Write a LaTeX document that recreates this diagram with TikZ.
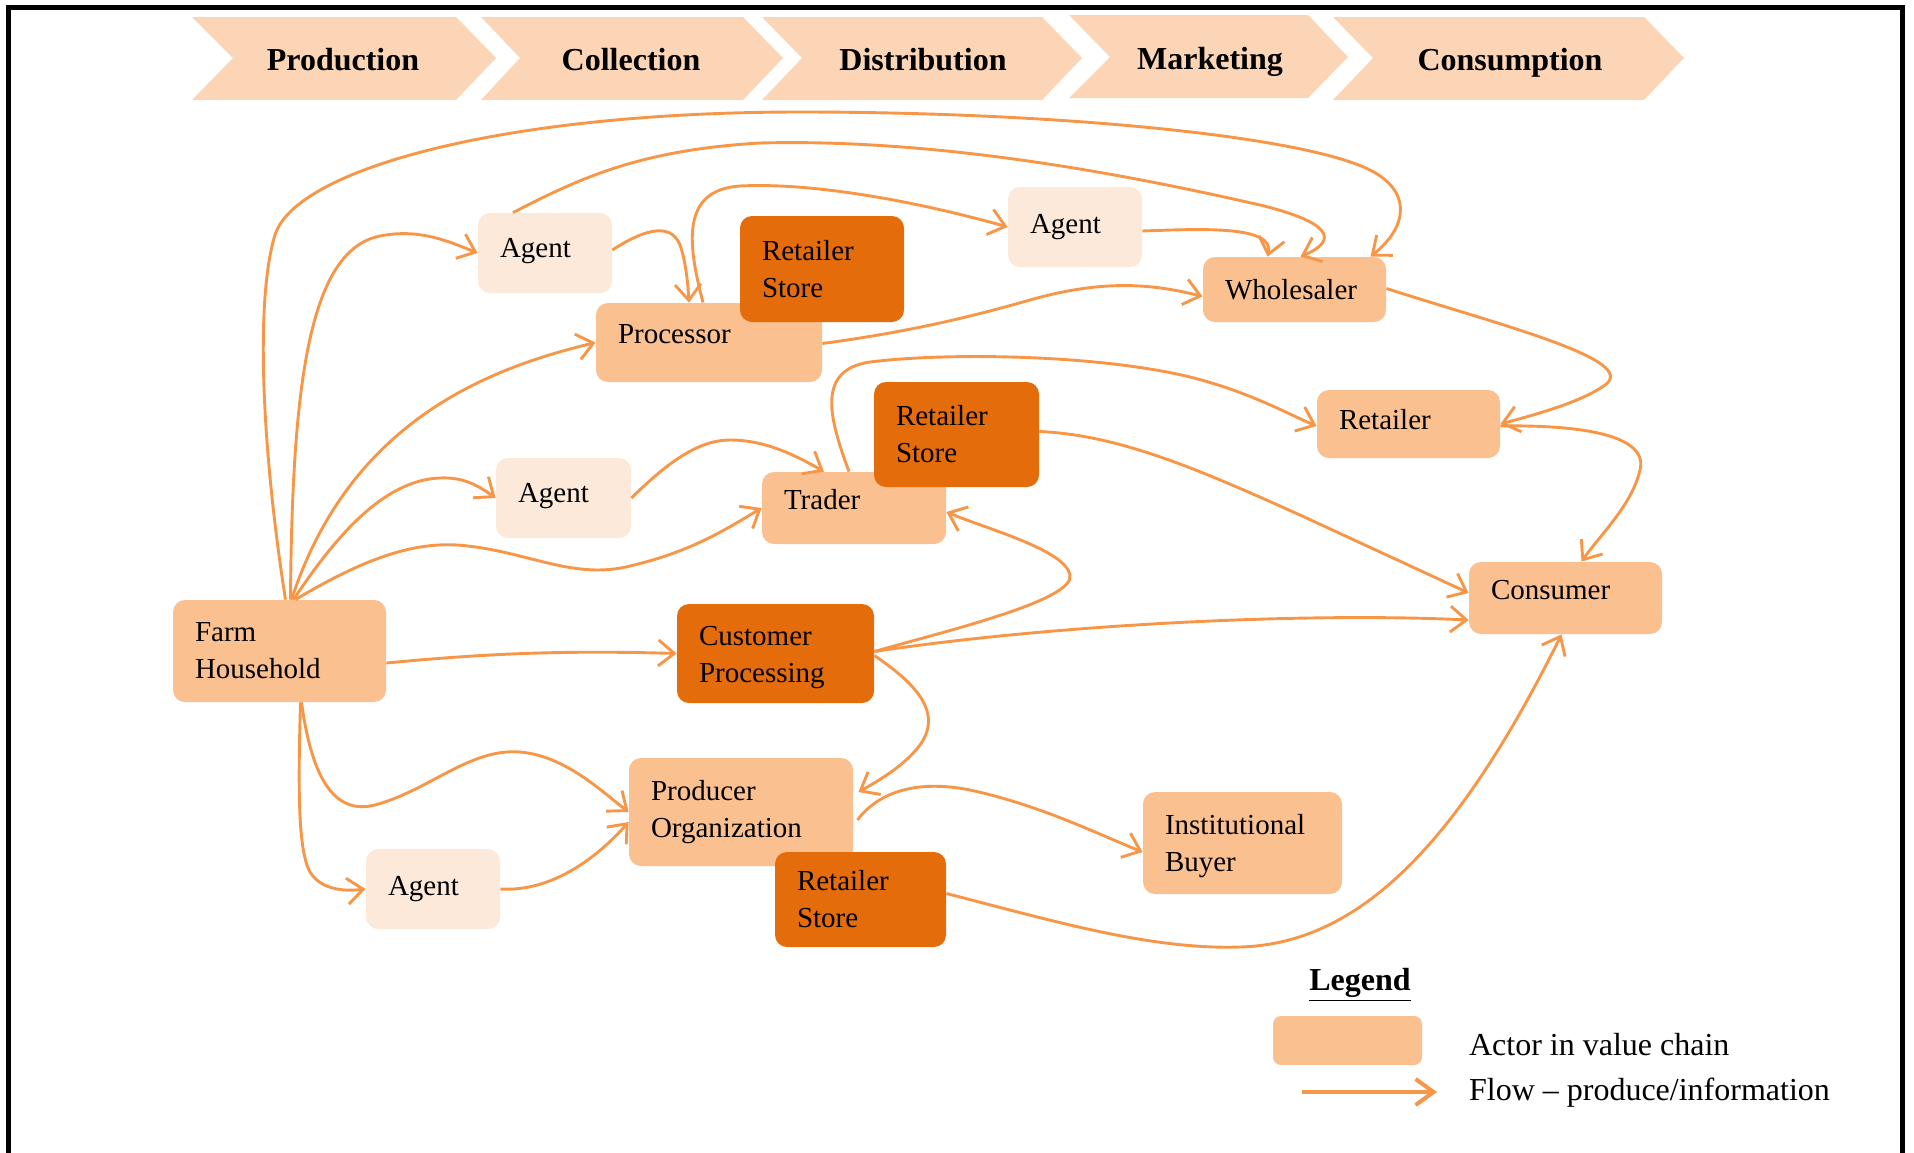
\documentclass[tikz,border=0pt]{standalone}
\usepackage{fontspec}
\setmainfont{Liberation Serif}
\usetikzlibrary{arrows.meta,calc}

\definecolor{chevron}{RGB}{251,213,181}
\definecolor{agentclr}{RGB}{253,233,217}
\definecolor{actorclr}{RGB}{250,192,144}
\definecolor{storeclr}{RGB}{228,108,10}
\definecolor{flowclr}{RGB}{247,150,70}

\tikzset{
  actor/.style={fill=actorclr, rounded corners=6pt, align=left, inner xsep=11pt, inner ysep=0pt,
    font=\fontsize{14.5}{18.5}\selectfont},
  agent/.style={actor, fill=agentclr},
  store/.style={actor, fill=storeclr},
  stage/.style={font=\fontsize{16}{19}\selectfont\bfseries, text height=11pt, text depth=3.5pt},
  legtext/.style={anchor=west, font=\fontsize{16}{19}\selectfont},
  flow/.style={draw=flowclr, line width=1.45pt, -{Straight Barb[length=8pt,width=13pt]}},
}

\begin{document}
\begin{tikzpicture}[x=0.5pt,y=-0.5pt]

    \useasboundingbox (0,0) rectangle (1914,1152);

    % marco
    \draw[black, line width=2.5pt] (8.5,1160) -- (8.5,7.5) -- (1902,7.5) -- (1902,1160);

    % etapas de la cadena
    \fill[chevron] (192,17) -- (456,17) -- (496,58) -- (456,100) -- (192,100) -- (233,58) -- cycle;
    \fill[chevron] (481,17) -- (743,17) -- (783,58) -- (743,100) -- (481,100) -- (520,58) -- cycle;
    \fill[chevron] (762,17) -- (1042,17) -- (1082,58) -- (1042,100) -- (762,100) -- (802,58) -- cycle;
    \fill[chevron] (1069,15) -- (1308,15) -- (1348,57) -- (1308,98) -- (1069,98) -- (1110,57) -- cycle;
    \fill[chevron] (1333,17) -- (1644,17) -- (1684,58) -- (1644,100) -- (1333,100) -- (1373,58) -- cycle;
    \node[stage] (sProd) at (343,62.5) {Production};
    \node[stage] (sColl) at (631,62.5) {Collection};
    \node[stage] (sDist) at (923,62.5) {Distribution};
    \node[stage] (sMark) at (1210,61.5) {Marketing};
    \node[stage] (sCons) at (1510,62.5) {Consumption};

    % actores
    \node[agent, minimum width=67pt, minimum height=40pt, text width=45pt, text depth=5pt] (agentA) at (545,253) {Agent};
    \node[actor, minimum width=113pt, minimum height=39.5pt, text width=91pt, text depth=9pt] (proc) at (709,342.5) {Processor};
    \node[store, minimum width=82pt, minimum height=53pt, text width=60pt] (storeA) at (822,269) {Retailer\\Store};
    \node[agent, minimum width=67pt, minimum height=40pt, text width=45pt] (agentB) at (1075,227) {Agent};
    \node[actor, minimum width=91.5pt, minimum height=32.5pt, text width=69.5pt] (whole) at (1294.5,289.5) {Wholesaler};
    \node[agent, minimum width=67.5pt, minimum height=40pt, text width=45.5pt, text depth=5pt] (agentC) at (563.5,498) {Agent};
    \node[actor, minimum width=92pt, minimum height=36pt, text width=70pt, text depth=9pt] (trader) at (854,508) {Trader};
    \node[store, minimum width=82.5pt, minimum height=52.5pt, text width=60.5pt] (storeB) at (956.5,434.5) {Retailer\\Store};
    \node[actor, minimum width=91.5pt, minimum height=34pt, text width=69.5pt, text depth=5pt] (retailer) at (1408.5,424) {Retailer};
    \node[actor, minimum width=96.5pt, minimum height=36pt, text width=74.5pt, text depth=8pt] (consumer) at (1565.5,598) {Consumer};
    \node[actor, minimum width=106.5pt, minimum height=51pt, text width=84.5pt] (farm) at (279.5,651) {Farm\\Household};
    \node[store, minimum width=98.5pt, minimum height=49.5pt, text width=76.5pt, text height=14pt] (custproc) at (775.5,653.5) {Customer\\Processing};
    \node[actor, minimum width=112pt, minimum height=54pt, text width=90pt] (prodorg) at (741,812) {Producer\\Organization};
    \node[agent, minimum width=67pt, minimum height=40pt, text width=45pt] (agentD) at (433,889) {Agent};
    \node[store, minimum width=85.5pt, minimum height=47.5pt, text width=63.5pt] (storeC) at (860.5,899.5) {Retailer\\Store};
    \node[actor, minimum width=99.5pt, minimum height=51pt, text width=77.5pt, text height=13.5pt] (inst) at (1242.5,843) {Institutional\\Buyer};

    % flujos desde la finca
    \draw[flow] ($(farm.north)+(6,0)$) .. controls (262,450) and (255,300) .. (275,235)
        .. controls (295,170) and (500,112) .. (800,112)
        .. controls (1050,112) and (1300,135) .. (1370,170)
        .. controls (1410,190) and (1410,225) .. ($(whole.north)+(76,0)$);
    \draw[flow] ($(farm.north)+(11,0)$) .. controls (292,380) and (310,250) .. (380,236)
        .. controls (420,228) and (450,242) .. (agentA.west);
    \draw[flow] ($(farm.north)+(12,0)$) .. controls (350,420) and (490,368) .. (proc.west);
    \draw[flow] ($(farm.north)+(14,0)$) .. controls (330,545) and (380,480) .. (440,478)
        .. controls (460,477) and (475,483) .. (agentC.west);
    \draw[flow] ($(farm.north)+(16,0)$) .. controls (370,555) and (420,540) .. (468,546)
        .. controls (530,553) and (575,580) .. (630,566)
        .. controls (690,552) and (725,530) .. (trader.west);
    \draw[flow] ($(farm.east)+(0,12)$) .. controls (480,654) and (560,650) .. (custproc.west);
    \draw[flow] ($(farm.south)+(22,0)$) .. controls (312,780) and (335,815) .. (375,805)
        .. controls (430,790) and (470,748) .. (520,752)
        .. controls (565,756) and (600,790) .. (prodorg.west);
    \draw[flow] ($(farm.south)+(21,0)$) .. controls (298,790) and (298,850) .. (310,872)
        .. controls (320,888) and (340,892) .. (agentD.west);
    \draw[flow] (agentD.east) .. controls (550,892) and (595,860) .. ($(prodorg.west)+(0,10)$);

    % flujos de la parte alta
    \draw[flow] ($(agentA.north)+(-32,0)$) .. controls (580,178) and (640,150) .. (760,143)
        .. controls (950,138) and (1150,180) .. (1260,205)
        .. controls (1330,222) and (1340,240) .. ($(whole.north)+(6,0)$);
    \draw[flow] ($(agentA.east)+(0,-3)$) .. controls (640,232) and (670,220) .. (680,245)
        .. controls (686,262) and (688,285) .. ($(proc.north)+(-20,0)$);
    \draw[flow] ($(proc.north)+(-6,0)$) .. controls (688,245) and (680,190) .. (740,186)
        .. controls (820,182) and (930,205) .. (agentB.west);
    \draw[flow] ($(agentB.east)+(0,4)$) .. controls (1200,229) and (1275,225) .. ($(whole.north)+(-27,0)$);
    \draw[flow] ($(proc.east)+(0,1)$) .. controls (900,333) and (960,320) .. (1030,300)
        .. controls (1100,280) and (1150,283) .. ($(whole.west)+(0,7)$);
    \draw[flow] ($(trader.north)+(-5,0)$) .. controls (830,420) and (815,370) .. (870,362)
        .. controls (950,352) and (1100,355) .. (1190,377)
        .. controls (1250,392) and (1290,415) .. ($(retailer.west)+(0,2)$);
    \draw[flow] (agentC.east) .. controls (670,460) and (700,440) .. (730,440)
        .. controls (765,440) and (795,455) .. ($(trader.north)+(-30,0)$);
    \draw[flow] ($(storeB.east)+(0,-3)$) .. controls (1120,435) and (1200,470) .. (1300,515)
        .. controls (1380,552) and (1430,575) .. ($(consumer.west)+(0,-5)$);
    \draw[flow] ($(whole.east)+(0,-1)$) .. controls (1500,325) and (1640,360) .. (1605,385)
        .. controls (1580,403) and (1530,416) .. (retailer.east);
    \draw[flow] ($(retailer.east)+(0,2)$) .. controls (1560,425) and (1650,430) .. (1640,470)
        .. controls (1632,505) and (1600,535) .. ($(consumer.north)+(16,0)$);

    % flujos del procesamiento
    \draw[flow] ($(custproc.east)+(0,-2)$) .. controls (950,630) and (1075,600) .. (1070,575)
        .. controls (1065,550) and (990,530) .. ($(trader.east)+(0,4)$);
    \draw[flow] ($(custproc.east)+(0,-2)$) .. controls (1050,625) and (1300,612) .. ($(consumer.west)+(0,22)$);
    \draw[flow] ($(custproc.east)+(0,2)$) .. controls (910,680) and (945,710) .. (920,745)
        .. controls (905,765) and (880,780) .. ($(prodorg.east)+(5,-20)$);
    \draw[flow] ($(prodorg.east)+(4,8)$) .. controls (880,790) and (920,780) .. (970,790)
        .. controls (1040,805) and (1100,835) .. ($(inst.west)+(0,9)$);
    \draw[flow] ($(storeC.east)+(0,-6)$) .. controls (1050,920) and (1150,950) .. (1240,947)
        .. controls (1350,944) and (1450,860) .. ($(consumer.south)+(-4,0)$);

    % leyenda
    \node[font=\fontsize{16}{19}\selectfont\bfseries] (leg) at (1360,985) {\underline{Legend}};
    \node[actor, rounded corners=4pt, minimum width=74.5pt, minimum height=24.5pt] (legBox) at (1347.5,1040.5) {};
    \node[legtext] (legActor) at (1462,1045) {Actor in value chain};
    \coordinate (legA) at (1302,1092);
    \coordinate (legB) at (1437,1092);
    \draw[flow, line width=2pt, -{Straight Barb[length=9pt,width=13pt]}] (legA) -- (legB);
    \node[legtext] (legFlow) at (1462,1093) {Flow – produce/information};

\end{tikzpicture}
\end{document}
